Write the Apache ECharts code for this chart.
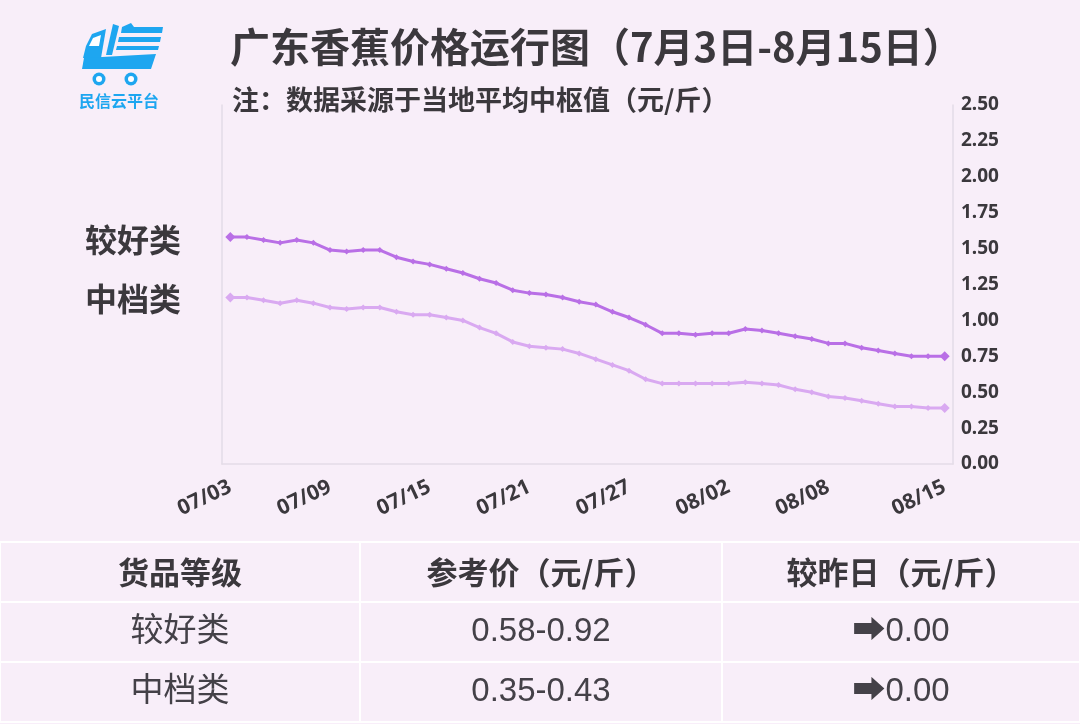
<!DOCTYPE html>
<html>
<head>
<meta charset="utf-8">
<script src="https://cdn.jsdelivr.net/npm/echarts@6/dist/echarts.min.js"></script>
<style>
  html, body { margin: 0; padding: 0; background: #f8eef9; }
  #main { width: 1080px; height: 724px; }
</style>
</head>
<body>
<div id="main"></div>
<script>
// 日期（7月3日-8月15日）
var dates = [
  "07/03","07/04","07/05","07/06","07/07","07/08","07/09","07/10","07/11","07/12",
  "07/13","07/14","07/15","07/16","07/17","07/18","07/19","07/20","07/21","07/22",
  "07/23","07/24","07/25","07/26","07/27","07/28","07/29","07/30","07/31","08/01",
  "08/02","08/03","08/04","08/05","08/06","08/07","08/08","08/09","08/10","08/11",
  "08/12","08/13","08/14","08/15"
];
// 较好类 平均中枢值
var goodPrice = [
  1.58,1.58,1.56,1.54,1.56,1.54,1.49,1.48,1.49,1.49,
  1.44,1.41,1.39,1.36,1.33,1.29,1.26,1.21,1.19,1.18,
  1.16,1.13,1.11,1.06,1.02,0.97,0.91,0.91,0.90,0.91,
  0.91,0.94,0.93,0.91,0.89,0.87,0.84,0.84,0.81,0.79,
  0.77,0.75,0.75,0.75
];
// 中档类 平均中枢值
var midPrice = [
  1.16,1.16,1.14,1.12,1.14,1.12,1.09,1.08,1.09,1.09,
  1.06,1.04,1.04,1.02,1.00,0.95,0.91,0.85,0.82,0.81,
  0.80,0.77,0.73,0.69,0.65,0.59,0.56,0.56,0.56,0.56,
  0.56,0.57,0.56,0.55,0.52,0.50,0.47,0.46,0.44,0.42,
  0.40,0.40,0.39,0.39
];
var shownDates = ["07/03","07/09","07/15","07/21","07/27","08/02","08/08","08/15"];
var tableHead = ["货品等级", "参考价（元/斤）", "较昨日（元/斤）"];
var tableRows = [
  ["较好类", "0.58-0.92", "➡0.00"],
  ["中档类", "0.35-0.43", "➡0.00"]
];

var cjk = "'Noto Sans CJK SC', 'Noto Sans', sans-serif";
var textColor = "#3b383d";
var blue = "#1ea6f0";

// 表格
var colX = [0, 360, 722, 1080];
var rowY = [542, 602, 662, 722];
var tableEls = [];
for (var r = 0; r < rowY.length; r++) {
  tableEls.push({ type: "line", shape: { x1: 0, y1: rowY[r], x2: 1080, y2: rowY[r] }, style: { stroke: "#ffffff", lineWidth: 2 } });
}
for (var c = 0; c < colX.length; c++) {
  tableEls.push({ type: "line", shape: { x1: colX[c], y1: rowY[0], x2: colX[c], y2: rowY[3] }, style: { stroke: "#ffffff", lineWidth: 2 } });
}
tableHead.forEach(function (t, i) {
  tableEls.push({
    type: "text", x: (colX[i] + colX[i + 1]) / 2, y: (rowY[0] + rowY[1]) / 2,
    style: { text: t, fill: textColor, font: "bold 31px " + cjk, align: "center", verticalAlign: "middle" }
  });
});
tableRows.forEach(function (row, ri) {
  row.forEach(function (t, i) {
    tableEls.push({
      type: "text", x: (colX[i] + colX[i + 1]) / 2, y: (rowY[ri + 1] + rowY[ri + 2]) / 2,
      style: { text: t, fill: "#444148", font: "33px 'Liberation Sans', 'Noto Sans CJK SC', 'DejaVu Sans', sans-serif", align: "center", verticalAlign: "middle" }
    });
  });
});

// logo
var logoEls = [
  { type: "polygon", shape: { points: [[92, 34], [106, 29], [101, 58], [83, 58], [86, 46]] }, style: { fill: blue } },
  { type: "polygon", shape: { points: [[93, 38], [101, 35], [99, 46], [89, 46]] }, style: { fill: "#ffffff" } },
  { type: "polygon", shape: { points: [[113, 24], [119, 26], [112, 55], [106, 55]] }, style: { fill: blue } },
  { type: "polygon", shape: { points: [[122, 27], [131, 23], [134, 27], [163, 27], [162, 33], [121, 33]] }, style: { fill: blue } },
  { type: "polygon", shape: { points: [[119, 37], [161, 37], [160, 42], [118, 42]] }, style: { fill: blue } },
  { type: "polygon", shape: { points: [[117, 46], [159, 46], [158, 50], [116, 50]] }, style: { fill: blue } },
  { type: "polygon", shape: { points: [[84, 58], [156, 54], [151, 69], [82, 69]] }, style: { fill: blue } },
  { type: "circle", shape: { cx: 99, cy: 79, r: 6.5 }, style: { fill: blue } },
  { type: "circle", shape: { cx: 99, cy: 79, r: 3 }, style: { fill: "#ffffff" } },
  { type: "circle", shape: { cx: 131, cy: 79, r: 6.5 }, style: { fill: blue } },
  { type: "circle", shape: { cx: 131, cy: 79, r: 3 }, style: { fill: "#ffffff" } },
  { type: "text", x: 119, y: 101, style: { text: "民信云平台", fill: blue, font: "bold 16px " + cjk, align: "center", verticalAlign: "middle" } }
];

var chart = echarts.init(document.getElementById("main"));
var lastIdx = dates.length - 1;
function symSize(v, p) {
  return (p.dataIndex === 0 || p.dataIndex === lastIdx) ? 10 : 6;
}

chart.setOption({
  backgroundColor: "#f8eef9",
  animation: false,
  grid: { left: 222, right: 127, top: 105, bottom: 260 },
  xAxis: {
    type: "category",
    data: dates,
    boundaryGap: true,
    axisTick: { show: false },
    axisLine: { lineStyle: { color: "#e3dbe7", width: 1.5 } },
    axisLabel: {
      rotate: 25,
      margin: 22,
      color: textColor,
      fontWeight: "bold",
      fontSize: 21,
      fontFamily: "'Noto Sans', sans-serif",
      interval: function (i, v) { return shownDates.indexOf(v) >= 0; }
    }
  },
  yAxis: [{
    type: "value",
    position: "right",
    min: 0,
    max: 2.5,
    interval: 0.25,
    splitLine: { show: false },
    axisLine: { show: true, lineStyle: { color: "#e3dbe7", width: 1.5 } },
    axisLabel: {
      margin: 8,
      color: textColor,
      fontWeight: "bold",
      fontSize: 19,
      fontFamily: "'Noto Sans', sans-serif",
      formatter: function (v) { return v.toFixed(2); }
    }
  }, {
    type: "value",
    position: "left",
    min: 0,
    max: 2.5,
    interval: 0.25,
    splitLine: { show: false },
    axisLabel: { show: false },
    axisLine: { show: true, lineStyle: { color: "#e3dbe7", width: 1.5 } }
  }],
  series: [{
    name: "较好类",
    type: "line",
    data: goodPrice,
    symbol: "diamond",
    symbolSize: symSize,
    itemStyle: { color: "#b96fe6" },
    lineStyle: { color: "#b96fe6", width: 3 }
  }, {
    name: "中档类",
    type: "line",
    data: midPrice,
    symbol: "diamond",
    symbolSize: symSize,
    itemStyle: { color: "#d9a9f1" },
    lineStyle: { color: "#d9a9f1", width: 3 }
  }],
  graphic: [
    { type: "text", x: 230, y: 47, style: { text: "广东香蕉价格运行图（7月3日-8月15日）", fill: textColor, font: "bold 40px " + cjk, verticalAlign: "middle" } },
    { type: "text", x: 232, y: 100, style: { text: "注：数据采源于当地平均中枢值（元/斤）", fill: textColor, font: "bold 27px " + cjk, verticalAlign: "middle" } },
    { type: "text", x: 85, y: 240, style: { text: "较好类", fill: textColor, font: "bold 32px " + cjk, verticalAlign: "middle" } },
    { type: "text", x: 85, y: 299, style: { text: "中档类", fill: textColor, font: "bold 32px " + cjk, verticalAlign: "middle" } }
  ].concat(logoEls).concat(tableEls)
});
</script>
</body>
</html>
